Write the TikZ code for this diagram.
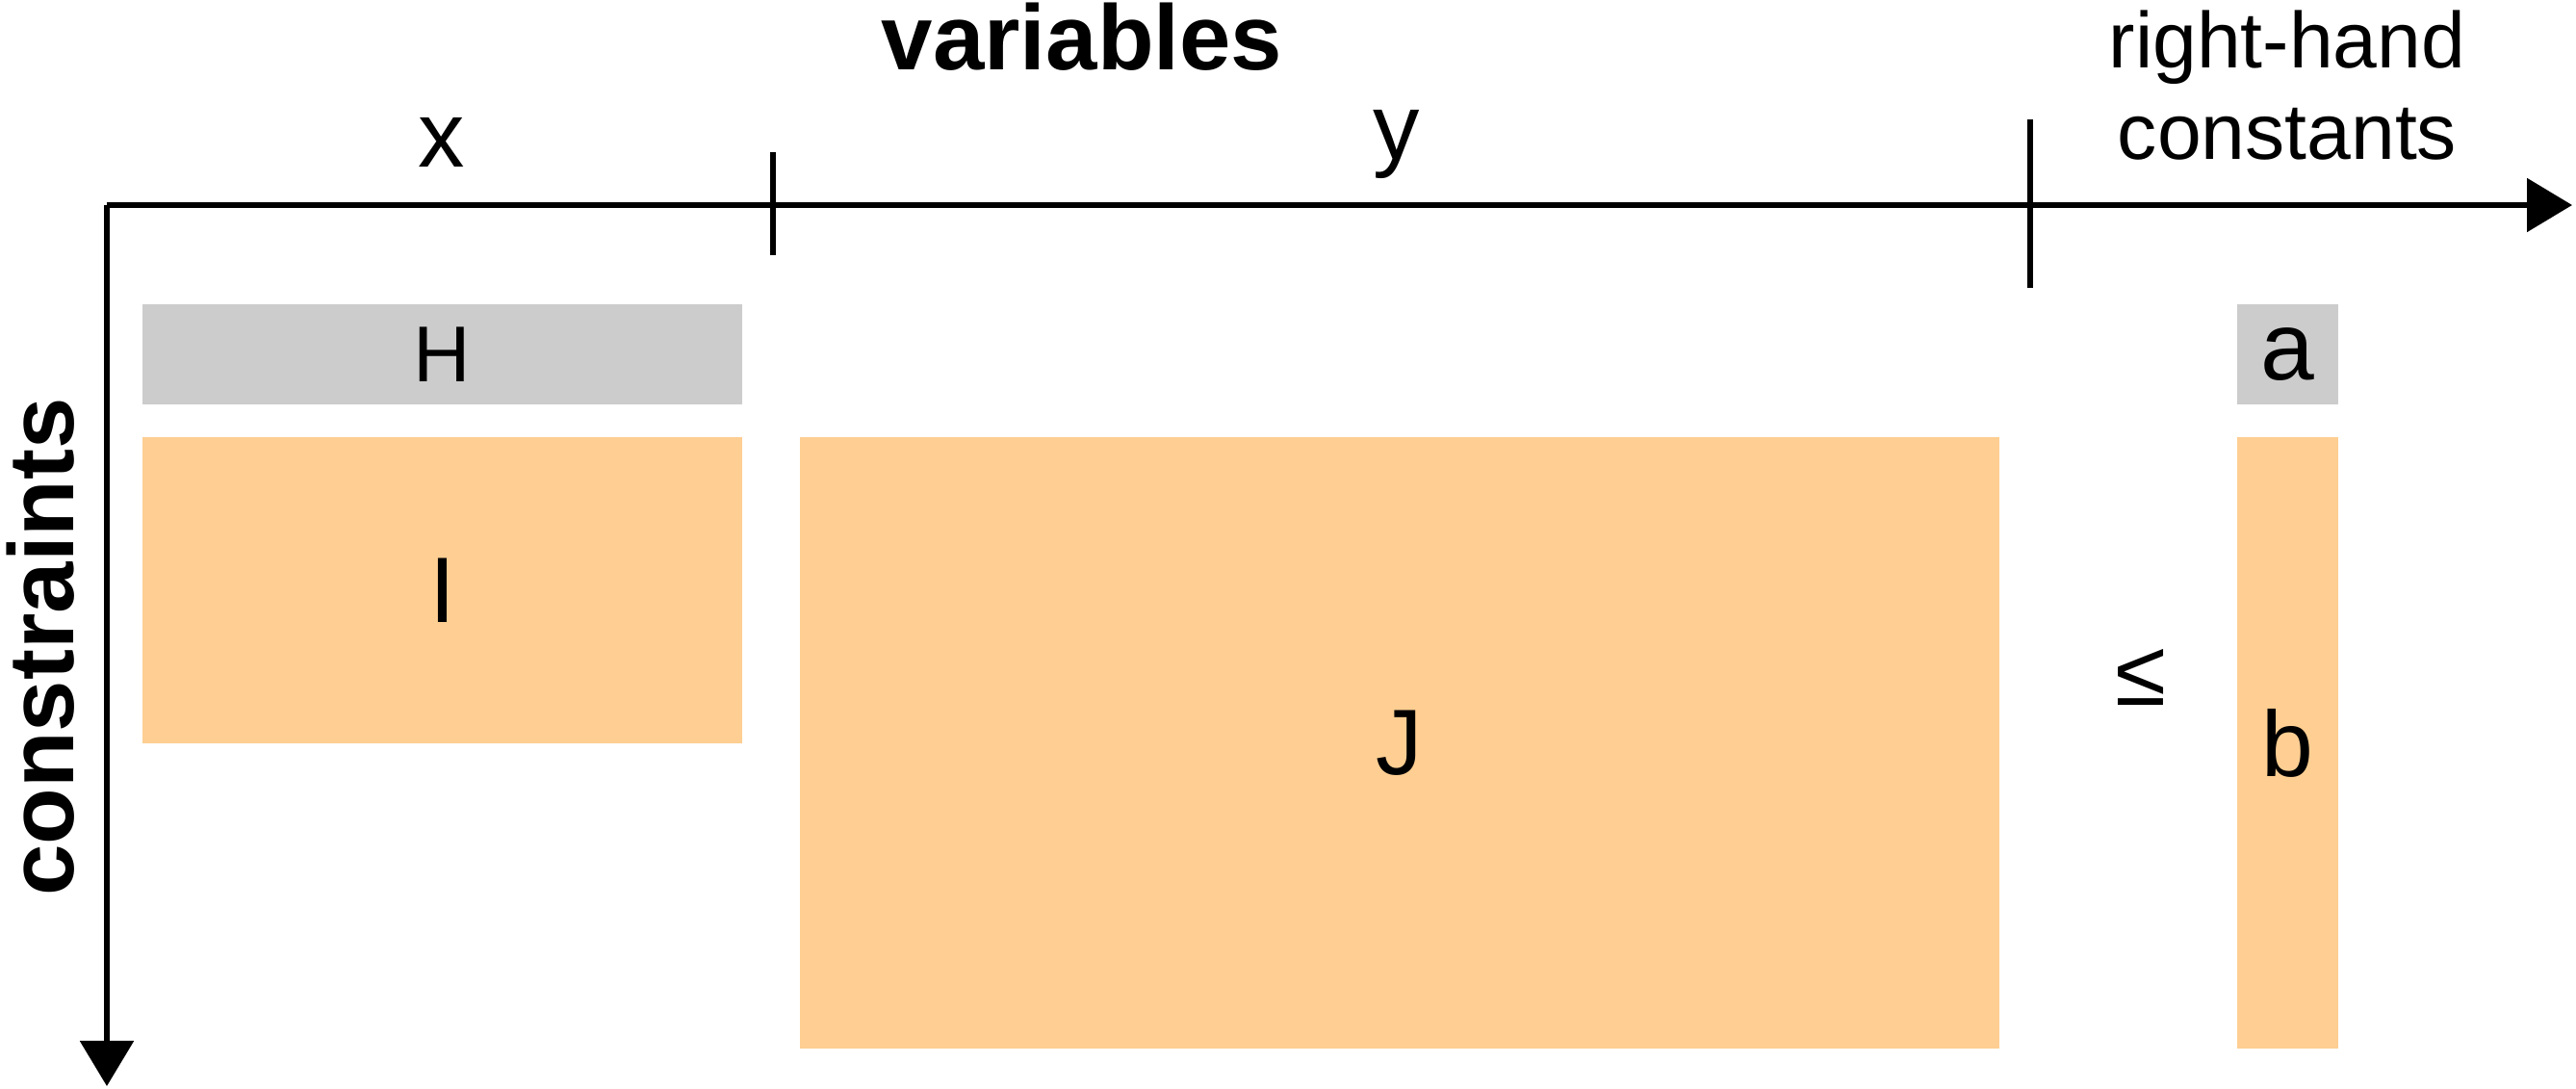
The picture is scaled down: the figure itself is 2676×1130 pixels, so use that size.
\documentclass[tikz,border=0pt]{standalone}
\usepackage{fontspec}
\setmainfont{Liberation Sans}
\usetikzlibrary{arrows.meta}
\definecolor{boxgray}{RGB}{204,204,204}
\definecolor{boxorange}{RGB}{254,206,146}
\tikzset{
  axis/.style={line width=1.6pt, -{Triangle[length=0.47cm,width=0.55cm]}},
  tickline/.style={line width=1.5pt},
  block/.style={inner sep=0pt, outer sep=0pt, draw=none},
  graybox/.style={block, fill=boxgray, font=\fontsize{23.4}{27}\selectfont},
  orangebox/.style={block, fill=boxorange, font=\fontsize{27.5}{32}\selectfont},
  lbl/.style={inner sep=0pt, anchor=base, font=\fontsize{27.5}{32}\selectfont},
  smalllbl/.style={inner sep=0pt, anchor=base, font=\fontsize{23.4}{27}\selectfont},
  boldlbl/.style={inner sep=0pt, font=\fontsize{27.3}{32}\selectfont\bfseries},
}
\begin{document}
\begin{tikzpicture}[x=0.01cm, y=-0.01cm]
\useasboundingbox (0,0) rectangle (2676,1130);
% blocks
\node[graybox, minimum width=6.23cm, minimum height=1.04cm] (H) at (459.5,368) {H};
\node[orangebox, minimum width=6.23cm, minimum height=3.18cm] (I) at (459.5,613) {I};
\node[orangebox, minimum width=12.46cm, minimum height=6.35cm] (J) at (1454,771.5) {J};
\node[graybox, font=\fontsize{28.5}{32}\selectfont, minimum width=1.05cm, minimum height=1.04cm] (a) at (2376.5,368) {a};
\node[orangebox, minimum width=1.05cm, minimum height=6.35cm] (b) at (2376.5,771.5) {b};
\node[inner sep=0pt, font=\fontsize{27.5}{32}\selectfont] (le) at (2224,703) {≤};
% axes
\coordinate (O) at (111,213);
\coordinate (xend) at (2672,213);
\coordinate (yend) at (111,1128);
\draw[axis] (O) -- (xend);
\draw[axis] (O) -- (yend);
% ticks
\coordinate (t1a) at (803,158);
\coordinate (t1b) at (803,265);
\coordinate (t2a) at (2109,124);
\coordinate (t2b) at (2109,299);
\draw[tickline] (t1a) -- (t1b);
\draw[tickline] (t2a) -- (t2b);
% labels
\node[lbl] (xl) at (459,173) {x};
\node[lbl] (yl) at (1451,165) {y};
\node[smalllbl] (rh1) at (2376,70) {right-hand};
\node[smalllbl] (rh2) at (2376,165) {constants};
\node[boldlbl, anchor=base] (vars) at (1124,72) {variables};
\node[boldlbl, rotate=90, anchor=base] (cons) at (76,672) {constraints};
\end{tikzpicture}
\end{document}
